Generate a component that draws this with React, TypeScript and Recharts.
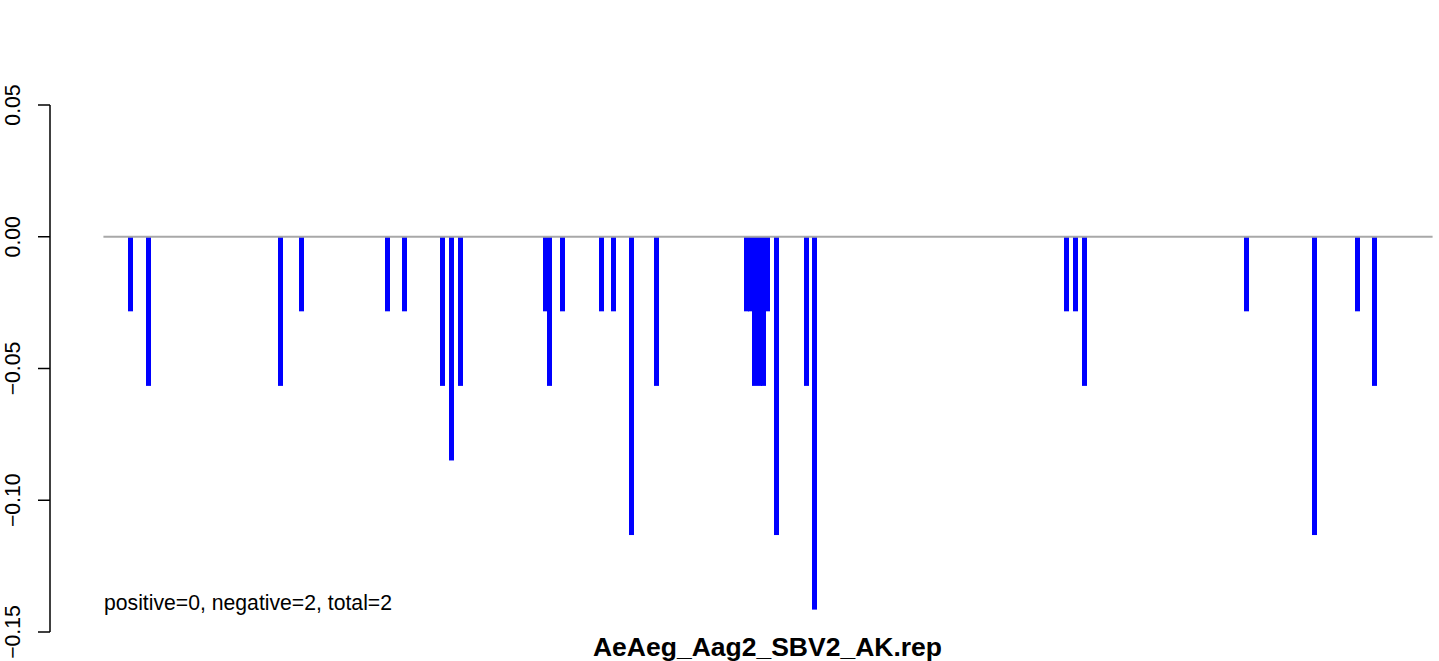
import React from 'react';
import { BarChart, Bar, XAxis, YAxis, ReferenceLine } from 'recharts';

// positions along the sequence and their (negative) depth
const positions = [
  7, 11, 42, 47, 67, 71, 80, 82, 84, 104, 105, 108, 117, 120, 124, 130,
  151, 152, 153, 154, 155, 156, 158, 165, 167, 226, 228, 230, 268, 284, 294, 298,
];
const values = [
  -0.0283, -0.0566, -0.0566, -0.0283, -0.0283, -0.0283, -0.0566, -0.0849, -0.0566, -0.0283,
  -0.0566, -0.0283, -0.0283, -0.0283, -0.1132, -0.0566, -0.0283, -0.0283, -0.0566, -0.0566,
  -0.0566, -0.0283, -0.1132, -0.0566, -0.1415, -0.0283, -0.0283, -0.0566, -0.0283, -0.1132,
  -0.0283, -0.0566,
];
const yTicks = [-0.15, -0.1, -0.05, 0, 0.05];
const seqStart = 0.5;
const seqEnd = 311.5;
const title = 'AeAeg_Aag2_SBV2_AK.rep';
const summary = 'positive=0, negative=2, total=2';

const data = positions.map((pos, i) => ({ pos, value: values[i] }));

const FONT = '"Liberation Sans", Arial, Helvetica, sans-serif';

const fmt = (v: number) => {
  const s = Math.abs(v).toFixed(2);
  return v < 0 ? '\u2212' + s : s;
};

const YTick = ({ x, y, payload }: any) => (
  <text
    transform={`translate(${x - 16},${y}) rotate(-90)`}
    textAnchor="middle"
    fontSize={21.2}
    fontFamily={FONT}
    fill="#000"
  >
    {fmt(payload.value)}
  </text>
);

// R type="h"-like thick line centred on the position
const ThickBar = (props: any) => {
  const { x, y, width, height } = props;
  const cx = x + width / 2;
  const top = Math.min(y, y + height);
  const h = Math.abs(height);
  return <rect x={Math.round(cx - 2.5)} y={top} width={5} height={h} fill="#0000FF" />;
};

export default function App() {
  return (
    <div style={{ position: 'absolute', left: 0, top: 0, width: 1439, height: 661, background: '#fff', fontFamily: FONT }}>
      <BarChart
        width={1439}
        height={661}
        data={data}
        margin={{ top: 105, right: 0, bottom: 29, left: 0 }}
      >
        <XAxis type="number" dataKey="pos" domain={[-12, 313]} hide />
        <YAxis
          type="number"
          domain={[-0.15, 0.05]}
          ticks={yTicks}
          interval={0}
          width={50}
          tickSize={12}
          tick={<YTick />}
          axisLine={{ stroke: '#000', strokeWidth: 1.5 }}
          tickLine={{ stroke: '#000', strokeWidth: 1.5 }}
        />
        <ReferenceLine
          segment={[{ x: seqStart, y: 0 }, { x: seqEnd, y: 0 }]}
          stroke="#A8A8A8"
          strokeWidth={2}
        />
        <Bar dataKey="value" barSize={5} shape={<ThickBar />} isAnimationActive={false} />
      </BarChart>
      <svg width={1439} height={661} style={{ position: 'absolute', left: 0, top: 0, pointerEvents: 'none' }}>
        <text x={104} y={610} fontSize={21.2} fontFamily={FONT} fill="#000">
          {summary}
        </text>
        <text x={767.5} y={656} fontSize={26.5} fontWeight="bold" fontFamily={FONT} textAnchor="middle" fill="#000">
          {title}
        </text>
      </svg>
    </div>
  );
}
